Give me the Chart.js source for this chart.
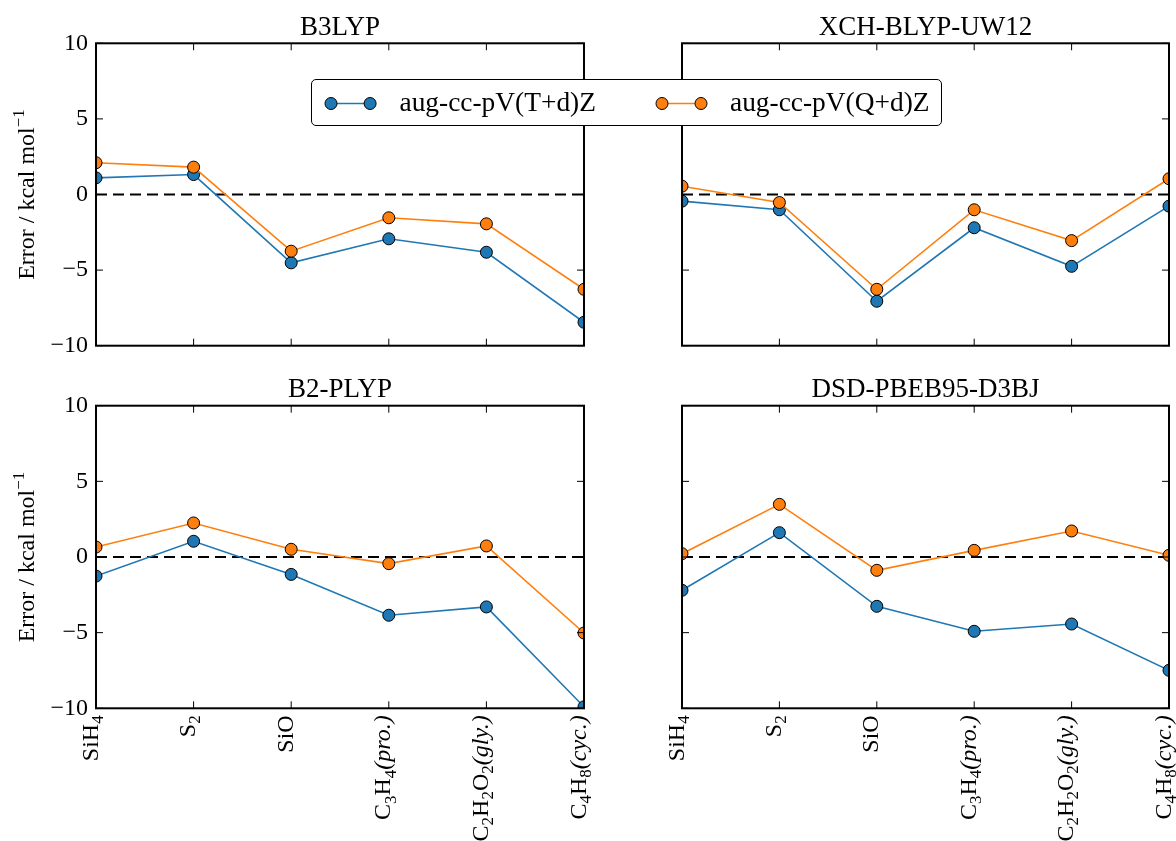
<!DOCTYPE html>
<html><head><meta charset="utf-8">
<script src="https://cdn.jsdelivr.net/npm/chart.js@4.4.0/dist/chart.umd.min.js"></script>
<style>
html,body{margin:0;padding:0;background:#fff;}
#wrap{position:relative;width:1176px;height:841px;overflow:hidden;background:#fff;}
#wrap canvas{position:absolute;}
#legend{position:absolute;left:311px;top:79px;width:629px;height:45px;border:1.6px solid #000;border-radius:5px;background:#fff;z-index:5;font-family:"Liberation Serif","Times New Roman",serif;font-size:27.4px;color:#000;}
#legend .lab{position:absolute;top:0;line-height:45px;white-space:nowrap;}
#legend svg{position:absolute;top:0;}
</style></head>
<body><div id="wrap"><div id="legend"></div></div>
<script>
// ---------------- data ----------------
const categories = ['SiH₄', 'S₂', 'SiO', 'C₃H₄(pro.)', 'C₂H₂O₂(gly.)', 'C₄H₈(cyc.)'];
const methodNames = ['B3LYP', 'XCH-BLYP-UW12', 'B2-PLYP', 'DSD-PBEB95-D3BJ'];
const seriesNames = ['aug-cc-pV(T+d)Z', 'aug-cc-pV(Q+d)Z'];
const seriesColors = ['#1f77b4', '#ff7f0e'];
const yTicks = [-10, -5, 0, 5, 10];
const yAxisLabel = 'Error / kcal mol⁻¹';

const b3lypTZ = [1.10, 1.32, -4.52, -2.93, -3.82, -8.45];
const b3lypQZ = [2.10, 1.81, -3.75, -1.54, -1.94, -6.27];
const xchTZ   = [-0.44, -1.01, -7.06, -2.20, -4.75, -0.77];
const xchQZ   = [0.55, -0.53, -6.27, -1.01, -3.05, 1.04];
const b2plypTZ = [-1.26, 1.04, -1.15, -3.85, -3.30, -9.90];
const b2plypQZ = [0.66, 2.25, 0.51, -0.44, 0.73, -5.02];
const dsdTZ   = [-2.20, 1.61, -3.26, -4.91, -4.43, -7.49];
const dsdQZ   = [0.22, 3.48, -0.88, 0.44, 1.72, 0.11];

// ---------------- rich text helpers ----------------
const FAM = '"Liberation Serif","Times New Roman",serif';
const SUB = {'₀':'0','₁':'1','₂':'2','₃':'3','₄':'4','₅':'5','₆':'6','₇':'7','₈':'8','₉':'9'};
const SUP = {'⁻':'−','¹':'1','²':'2','³':'3'};
function parseRich(s){
  const segs=[]; let it=false;
  for(const ch of s){
    if(ch==='(') it=true;
    let st, t=ch;
    if(SUB[ch]){st='sub'; t=SUB[ch];}
    else if(SUP[ch]){st='sup'; t=SUP[ch];}
    else st = it ? 'it' : 'n';
    const last=segs[segs.length-1];
    if(last && last.st===st) last.t+=t; else segs.push({st,t});
    if(ch===')') it=false;
  }
  return segs;
}
function segFont(st,size){
  const small=Math.round(size*0.7);
  if(st==='it') return 'italic '+size+'px '+FAM;
  if(st==='sub'||st==='sup') return small+'px '+FAM;
  return size+'px '+FAM;
}
function segDy(st,size){ return st==='sub' ? size*0.22 : (st==='sup' ? -size*0.4 : 0); }
function drawRich(ctx,str,x,y,align,size){
  const segs=parseRich(str);
  let total=0;
  segs.forEach(s=>{ctx.font=segFont(s.st,size); s.w=ctx.measureText(s.t).width; total+=s.w;});
  let cx = align==='right' ? x-total : (align==='center' ? x-total/2 : x);
  ctx.textBaseline='alphabetic'; ctx.textAlign='left';
  segs.forEach(s=>{ctx.font=segFont(s.st,size); ctx.fillText(s.t,cx,y+segDy(s.st,size)); cx+=s.w;});
}

// ---------------- plugins ----------------
const framePlugin = {
  id:'frame',
  beforeDatasetsDraw(chart){
    const {ctx, chartArea:a, scales:{y}} = chart;
    const yz = y.getPixelForValue(0);
    ctx.save(); ctx.strokeStyle='#000'; ctx.lineWidth=2; ctx.setLineDash([11,6]);
    ctx.beginPath(); ctx.moveTo(a.left,yz); ctx.lineTo(a.right,yz); ctx.stroke(); ctx.restore();
  },
  afterDatasetsDraw(chart){
    const {ctx, chartArea:a, scales:{x,y}} = chart;
    ctx.save(); ctx.strokeStyle='#000';
    ctx.lineWidth=1;
    const tl=7;
    ctx.beginPath();
    x.ticks.forEach((t,i)=>{const px=x.getPixelForTick(i);
      ctx.moveTo(px,a.bottom); ctx.lineTo(px,a.bottom-tl); ctx.moveTo(px,a.top); ctx.lineTo(px,a.top+tl);});
    y.ticks.forEach((t,i)=>{const py=y.getPixelForTick(i);
      ctx.moveTo(a.left,py); ctx.lineTo(a.left+tl,py); ctx.moveTo(a.right,py); ctx.lineTo(a.right-tl,py);});
    ctx.stroke();
    ctx.lineWidth=2;
    ctx.strokeRect(a.left,a.top,a.right-a.left,a.bottom-a.top);
    ctx.restore();
  },
  afterDraw(chart){
    const o = chart.options.plugins.frame;
    const {ctx, chartArea:a, scales:{x}} = chart;
    ctx.save(); ctx.fillStyle='#000';
    // title
    ctx.font='27px '+FAM; ctx.textAlign='center'; ctx.textBaseline='alphabetic';
    ctx.fillText(o.title,(a.left+a.right)/2,a.top-8.5);
    // y label
    if(o.yLabel){
      ctx.save(); ctx.translate(o.yLabelX,(a.top+a.bottom)/2); ctx.rotate(-Math.PI/2);
      drawRich(ctx,yAxisLabel,0,0,'center',24); ctx.restore();
    }
    // x labels
    if(o.xLabels){
      x.ticks.forEach((t,i)=>{
        const px=x.getPixelForTick(i);
        ctx.save(); ctx.translate(px,a.bottom+7); ctx.rotate(-Math.PI/2);
        drawRich(ctx,categories[i],0,1.5,'right',24); ctx.restore();
      });
    }
    ctx.restore();
  }
};

// ---------------- panels ----------------
const panels = [
  {title:methodNames[0], tz:b3lypTZ, qz:b3lypQZ, L:0,   T:0,   W:600, H:360, area:[96,584,43.3,345.7], yL:true,  xL:false},
  {title:methodNames[1], tz:xchTZ,   qz:xchQZ,   L:600, T:0,   W:576, H:360, area:[682,1170,43.3,345.7], yL:false, xL:false},
  {title:methodNames[2], tz:b2plypTZ,qz:b2plypQZ,L:0,   T:360, W:600, H:481, area:[96,584,405.7,708.3], yL:true,  xL:true},
  {title:methodNames[3], tz:dsdTZ,   qz:dsdQZ,   L:600, T:360, W:576, H:481, area:[682,1170,405.7,708.3], yL:false, xL:true},
];
const wrap=document.getElementById('wrap');
panels.forEach(p=>{
  const cv=document.createElement('canvas');
  cv.width=p.W; cv.height=p.H; cv.style.left=p.L+'px'; cv.style.top=p.T+'px';
  cv.style.width=p.W+'px'; cv.style.height=p.H+'px';
  wrap.insertBefore(cv, document.getElementById('legend'));
  const [aL,aR,aT,aB]=p.area;
  const mk=(data,k)=>({label:seriesNames[k], data, borderColor:seriesColors[k], backgroundColor:seriesColors[k],
    pointBackgroundColor:seriesColors[k], pointBorderColor:'#000', pointBorderWidth:1, pointRadius:6,
    borderWidth:1.6, tension:0, clip:0, order:1-k});
  new Chart(cv,{
    type:'line',
    data:{labels:categories, datasets:[mk(p.tz,0), mk(p.qz,1)]},
    options:{
      responsive:false, animation:false, devicePixelRatio:1,
      layout:{padding:{left:0,top:aT-p.T,right:p.L+p.W-aR,bottom:0}},
      plugins:{legend:{display:false}, tooltip:{enabled:false}, title:{display:false},
        frame:{title:p.title, yLabel:p.yL, yLabelX:34, xLabels:p.xL}},
      scales:{
        x:{type:'category', offset:false, grid:{display:false,drawTicks:false}, border:{display:false},
           ticks:{display:false, autoSkip:false},
           afterFit:s=>{s.height=p.T+p.H-aB; s.paddingLeft=0; s.paddingRight=0; s.paddingTop=0; s.paddingBottom=0;}},
        y:{min:-10, max:10, grid:{display:false,drawTicks:false}, border:{display:false},
           afterBuildTicks:s=>{s.ticks=yTicks.map(v=>({value:v}));},
           ticks:{display:p.yL, padding:8, color:'#000', font:{family:FAM,size:24},
             callback:v=> v<0 ? '−'+Math.abs(v) : String(v)},
           afterFit:s=>{s.width=aL-p.L; s.paddingTop=0; s.paddingBottom=0; s.paddingLeft=0; s.paddingRight=0;}}
      }
    },
    plugins:[framePlugin]
  });
});

// ---------------- legend ----------------
const legend=document.getElementById('legend');
const legPos=[{m0:329.5-311, m1:368.6-311, tx:398.5-311}, {m0:661-311, m1:700-311, tx:729-311}];
seriesNames.forEach((name,k)=>{
  const pos=legPos[k];
  const ns='http://www.w3.org/2000/svg';
  const svg=document.createElementNS(ns,'svg');
  svg.setAttribute('width',80); svg.setAttribute('height',45);
  svg.style.left=(pos.m0-10)+'px';
  const cy=23.5;
  const ln=document.createElementNS(ns,'line');
  ln.setAttribute('x1',10); ln.setAttribute('x2',10+pos.m1-pos.m0); ln.setAttribute('y1',cy); ln.setAttribute('y2',cy);
  ln.setAttribute('stroke',seriesColors[k]); ln.setAttribute('stroke-width',1.6);
  svg.appendChild(ln);
  [10,10+pos.m1-pos.m0].forEach(cx=>{
    const c=document.createElementNS(ns,'circle');
    c.setAttribute('cx',cx); c.setAttribute('cy',cy); c.setAttribute('r',6);
    c.setAttribute('fill',seriesColors[k]); c.setAttribute('stroke','#000'); c.setAttribute('stroke-width',1);
    svg.appendChild(c);
  });
  legend.appendChild(svg);
  const sp=document.createElement('span'); sp.className='lab'; sp.textContent=name; sp.style.left=pos.tx+'px';
  legend.appendChild(sp);
});
</script>
</body></html>
